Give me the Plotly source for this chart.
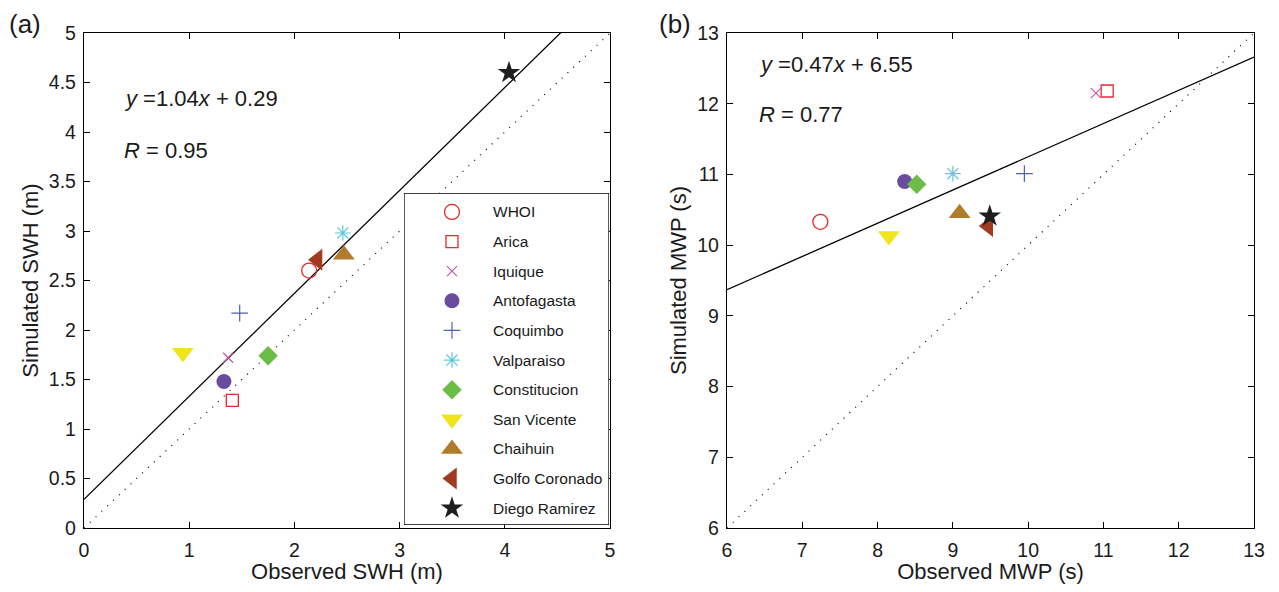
import plotly.graph_objects as go

# ---------------- data ----------------
stations = ["WHOI", "Arica", "Iquique", "Antofagasta", "Coquimbo", "Valparaiso",
            "Constitucion", "San Vicente", "Chaihuin", "Golfo Coronado", "Diego Ramirez"]
swh_obs = [2.14, 1.41, 1.37, 1.33, 1.48, 2.46, 1.75, 0.94, 2.47, 2.22, 4.04]
swh_sim = [2.60, 1.29, 1.72, 1.48, 2.17, 2.98, 1.74, 1.77, 2.76, 2.71, 4.60]
mwp_obs = [7.24, 11.05, 10.90, 8.36, 9.95, 9.00, 8.52, 8.15, 9.09, 9.47, 9.49]
mwp_sim = [10.33, 12.18, 12.15, 10.90, 11.01, 11.01, 10.86, 10.13, 10.45, 10.27, 10.41]
fit_a = {"slope": 1.04, "intercept": 0.29, "R": 0.95}
fit_b = {"slope": 0.47, "intercept": 6.55, "R": 0.77}
xticks_a = [0, 1, 2, 3, 4, 5]
yticks_a = [0, 0.5, 1, 1.5, 2, 2.5, 3, 3.5, 4, 4.5, 5]
ticks_b = [6, 7, 8, 9, 10, 11, 12, 13]

# ---------------- styles ----------------
symbols = ["circle-open", "square-open", "x-thin-open", "circle", "cross-thin-open",
           "asterisk-open", "diamond", "triangle-down", "triangle-up", "triangle-left", "star"]
colors = ["#e3292e", "#e8262f", "#c056a8", "#6a4c9e", "#4c63ae", "#5fc8dc",
          "#6cbd46", "#f0e41a", "#b07c2c", "#a23a22", "#1e1e1e"]
sizes = [15, 12, 10, 15, 12, 13, 15, 19, 19, 19, 17]
linew = [1.3, 1.3, 1.2, 0, 1.2, 1.2, 0, 0, 0, 0, 0]

FONT = "Liberation Sans, Arial, Helvetica, sans-serif"
PAGE_OFF = 8          # default body margin of the html page
W, H = 1279 - 2 * PAGE_OFF, 592 - 2 * PAGE_OFF

def fx(px):
    return (px - PAGE_OFF) / W

def fy(py):
    return 1 - (py - PAGE_OFF) / H

fig = go.Figure()

def add_station_traces(xs, ys, xa, ya):
    for i, name in enumerate(stations):
        fig.add_trace(go.Scatter(
            x=[xs[i]], y=[ys[i]], mode="markers", name=name, showlegend=False,
            xaxis=xa, yaxis=ya,
            marker=dict(symbol=symbols[i], size=sizes[i], color=colors[i],
                        line=dict(color=colors[i], width=linew[i]))))

# panel (a)
rng_a = [xticks_a[0], xticks_a[-1]]
fig.add_trace(go.Scatter(x=rng_a, y=rng_a, mode="lines", showlegend=False,
                         line=dict(color="black", width=1.2, dash="1px,7px"),
                         xaxis="x", yaxis="y"))
fig.add_trace(go.Scatter(x=rng_a, y=[fit_a["slope"] * v + fit_a["intercept"] for v in rng_a],
                         mode="lines", showlegend=False,
                         line=dict(color="black", width=1.3), xaxis="x", yaxis="y"))
add_station_traces(swh_obs, swh_sim, "x", "y")

# panel (b)
rng_b = [ticks_b[0], ticks_b[-1]]
fig.add_trace(go.Scatter(x=rng_b, y=rng_b, mode="lines", showlegend=False,
                         line=dict(color="black", width=1.2, dash="1px,7px"),
                         xaxis="x2", yaxis="y2"))
fig.add_trace(go.Scatter(x=rng_b, y=[fit_b["slope"] * v + fit_b["intercept"] for v in rng_b],
                         mode="lines", showlegend=False,
                         line=dict(color="black", width=1.3), xaxis="x2", yaxis="y2"))
add_station_traces(mwp_obs, mwp_sim, "x2", "y2")

# manual legend (panel a, lower right)
n = len(stations)
leg_y = list(range(n))
LEG_XR = [0, 1]
LEG_YR = [n - 1 + 0.57, -0.64]
for i, name in enumerate(stations):
    fig.add_trace(go.Scatter(
        x=[0.234], y=[leg_y[i]], mode="markers", showlegend=False, xaxis="x3", yaxis="y3",
        marker=dict(symbol=symbols[i], size=sizes[i], color=colors[i],
                    line=dict(color=colors[i], width=linew[i]))))

annotations = []
for i, name in enumerate(stations):
    annotations.append(dict(x=0.424, y=leg_y[i], xref="x3", yref="y3", text=name,
                            showarrow=False, xanchor="left", yanchor="middle",
                            font=dict(family=FONT, size=15.5, color="#1a1a1a")))

shapes = [dict(type="rect", xref="x3", yref="y3", x0=LEG_XR[0], x1=LEG_XR[1],
               y0=LEG_YR[0], y1=LEG_YR[1], fillcolor="white",
               line=dict(color="black", width=1.3), layer="below")]

# fit annotations
def fit_text(f):
    return f"<i>y</i> ={f['slope']:.2f}<i>x</i> + {f['intercept']:.2f}"

AF = dict(family=FONT, size=22, color="#1a1a1a")
annotations += [
    dict(x=0.073, y=0.867, xref="x domain", yref="y domain", text=fit_text(fit_a),
         showarrow=False, xanchor="left", yanchor="middle", font=AF),
    dict(x=0.073, y=0.762, xref="x domain", yref="y domain", text=f"<i>R</i> = {fit_a['R']:.2f}",
         showarrow=False, xanchor="left", yanchor="middle", font=AF),
    dict(x=0.057, y=0.937, xref="x2 domain", yref="y2 domain", text=fit_text(fit_b),
         showarrow=False, xanchor="left", yanchor="middle", font=AF),
    dict(x=0.057, y=0.836, xref="x2 domain", yref="y2 domain", text=f"<i>R</i> = {fit_b['R']:.2f}",
         showarrow=False, xanchor="left", yanchor="middle", font=AF),
    dict(x=fx(25), y=1, xref="paper", yref="paper", text="(a)", showarrow=False,
         xanchor="center", yanchor="top", borderpad=0,
         font=dict(family=FONT, size=26, color="#1a1a1a")),
    dict(x=fx(675), y=1, xref="paper", yref="paper", text="(b)", showarrow=False,
         xanchor="center", yanchor="top", borderpad=0,
         font=dict(family=FONT, size=26, color="#1a1a1a")),
]

axis_common = dict(showline=True, linecolor="black", linewidth=1.3, mirror="ticks",
                   ticks="inside", ticklen=6, tickwidth=1, tickcolor="black",
                   showgrid=False, zeroline=False, automargin=False,
                   tickfont=dict(family=FONT, size=19.5, color="#1a1a1a"))
TF = dict(family=FONT, size=22, color="#1a1a1a")
ydom = [fy(528), fy(33)]

fig.update_layout(
    width=W, height=H, margin=dict(l=0, r=0, t=0, b=0),
    paper_bgcolor="white", plot_bgcolor="rgba(0,0,0,0)",
    font=dict(family=FONT, color="#1a1a1a"),
    xaxis=dict(domain=[fx(84), fx(610)], range=rng_a, tickvals=xticks_a,
               title=dict(text="Observed SWH (m)", font=TF, standoff=12),
               ticklabelstandoff=4, anchor="y", **axis_common),
    yaxis=dict(domain=ydom, range=rng_a, tickvals=yticks_a,
               title=dict(text="Simulated SWH (m)", font=TF, standoff=4),
               ticklabelstandoff=3, anchor="x", **axis_common),
    xaxis2=dict(domain=[fx(727), fx(1254)], range=rng_b, tickvals=ticks_b,
                title=dict(text="Observed MWP (s)", font=TF, standoff=12),
                ticklabelstandoff=4, anchor="y2", **axis_common),
    yaxis2=dict(domain=ydom, range=rng_b, tickvals=ticks_b,
                title=dict(text="Simulated MWP (s)", font=TF, standoff=4),
                ticklabelstandoff=3, anchor="x2", **axis_common),
    xaxis3=dict(domain=[fx(404), fx(609)], range=LEG_XR, visible=False, anchor="y3", fixedrange=True),
    yaxis3=dict(domain=[fy(525), fy(193)], range=LEG_YR, visible=False, anchor="x3", fixedrange=True),
    annotations=annotations, shapes=shapes,
)

fig.write_html("out.html")
